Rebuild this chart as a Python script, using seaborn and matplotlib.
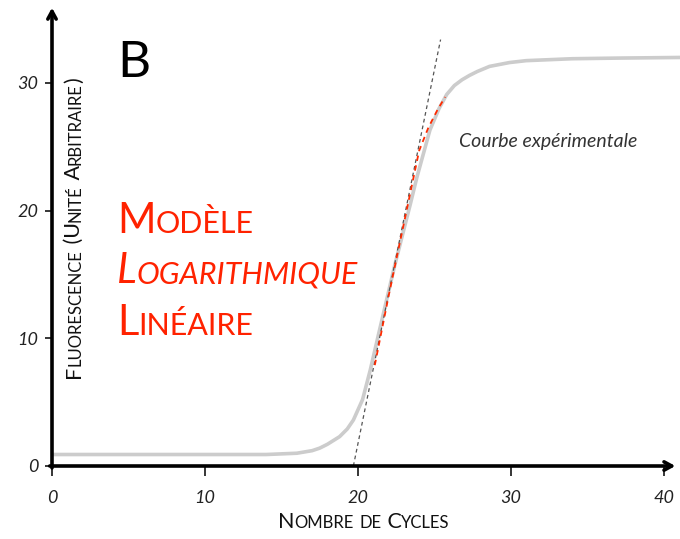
import matplotlib
matplotlib.use("Agg")
import matplotlib.pyplot as plt
import seaborn as sns

# qPCR amplification curve
cycles = [0, 5, 10, 14, 15, 16, 17, 17.5, 18, 18.8, 19.3, 19.7, 20.3, 20.8, 21.4,
          22.4, 23.4, 23.85, 24.7, 25.3, 25.8, 26.3, 26.8, 27.3, 27.8, 28.6, 29.9,
          31, 34, 37, 41.1]
fluo = [0.9, 0.9, 0.9, 0.9, 0.95, 1.0, 1.2, 1.4, 1.7, 2.3, 2.9, 3.6, 5.2, 7.5, 10.6,
        15.7, 20.4, 22.6, 26.3, 28.0, 29.1, 29.8, 30.25, 30.6, 30.9, 31.3, 31.6,
        31.75, 31.9, 31.95, 32.0]

# tangent of the linear phase
tangent_x = [19.7, 25.4]
tangent_y = [0, 33.4]

# log-linear model fit
model_x = [21.1, 22, 23, 24, 24.6, 25.2, 25.7]
model_y = [7.9, 13.3, 19, 24.7, 26.5, 27.9, 28.9]

xticks = [0, 10, 20, 30, 40]
yticks = [0, 10, 20, 30]

sns.set_style("white")
plt.rcParams['font.family'] = ['Lato', 'DejaVu Sans']

W, H = 680, 539
fig = plt.figure(figsize=(W / 100, H / 100), dpi=100)
ax = fig.add_axes([52 / W, 73 / H, (W - 52) / W, (H - 73) / H])

sns.lineplot(x=cycles, y=fluo, ax=ax, color="#cccccc", lw=2.6)
sns.lineplot(x=tangent_x, y=tangent_y, ax=ax, color="#555555", lw=0.9, linestyle=(0, (3, 2.5)))
sns.lineplot(x=model_x, y=model_y, ax=ax, color="#ff2a00", lw=1.3, linestyle=(0, (3, 2.5)))

ax.set_xlim(0, 41.05)
ax.set_ylim(0, 36.5)
for s in ax.spines.values():
    s.set_visible(False)

# axes with arrow heads
arrow = dict(arrowstyle="->,head_length=0.55,head_width=0.3", lw=2.6, color="black",
             shrinkA=0, shrinkB=0)
ax.annotate("", xy=(40.75, 0), xytext=(-0.15, 0), arrowprops=arrow, annotation_clip=False)
ax.annotate("", xy=(0, 35.9), xytext=(0, -0.15), arrowprops=arrow, annotation_clip=False)

ax.set_xticks(xticks)
ax.set_xticklabels([str(t) for t in xticks], fontstyle="italic", fontsize=13, color="#222222")
ax.set_yticks(yticks)
ax.set_yticklabels([str(t) for t in yticks], fontstyle="italic", fontsize=13, color="#222222")
ax.tick_params(axis="x", direction="out", length=7, width=1.3, pad=10, bottom=True)
ax.tick_params(axis="y", direction="out", length=5, width=1.3, pad=5, left=True)

renderer = fig.canvas.get_renderer()


def smallcaps(px, py, s, big, small, rot=0, **kw):
    # fake small caps: capitals at big size, lowercase as capitals at small size
    runs = []
    for ch in s:
        sz = small if ch.islower() else big
        if runs and runs[-1][1] == sz:
            runs[-1][0] += ch.upper()
        else:
            runs.append([ch.upper(), sz])
    x, y = px / W, 1 - py / H
    for txt, sz in runs:
        t = fig.text(x, y, txt, fontsize=sz, rotation=rot, ha="left", va="baseline",
                     rotation_mode="anchor", **kw)
        bb = t.get_window_extent(renderer)
        if rot == 0:
            x += bb.width / W
        else:
            y += bb.height / H


red = "#ff2200"
smallcaps(117, 233, "Modèle", 30, 22, color=red)
smallcaps(117, 283, "Logarithmique", 30, 22, color=red, fontstyle="italic")
smallcaps(117, 335, "Linéaire", 30, 22, color=red)

smallcaps(278, 528, "Nombre de Cycles", 15.5, 12, color="#111111")
smallcaps(80, 378, "Fluorescence (Unité Arbitraire)", 15.5, 12, rot=90, color="#111111")

fig.text(117 / W, 1 - 77 / H, "B", fontsize=37, color="black", ha="left", va="baseline")
fig.text(459 / W, 1 - 147 / H, "Courbe expérimentale", fontsize=14, fontstyle="italic",
         color="#333333", ha="left", va="baseline")

fig.savefig("out.png", dpi=100)
